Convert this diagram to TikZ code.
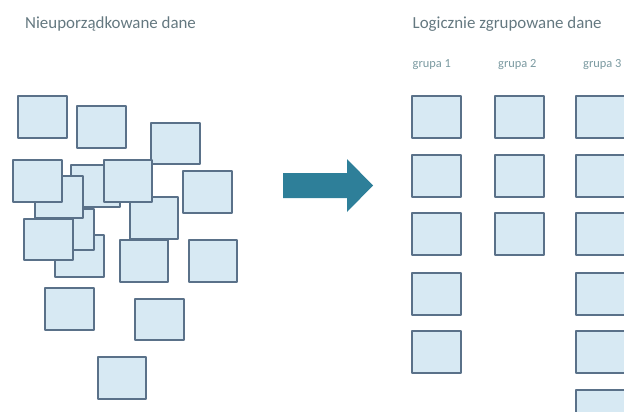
\documentclass[tikz,border=0pt]{standalone}
\usepackage{fontspec}
\setmainfont{Carlito}
\definecolor{boxfill}{HTML}{D7E9F3}
\definecolor{boxline}{HTML}{5A7189}
\definecolor{arrowteal}{HTML}{2E7F99}
\definecolor{titletext}{HTML}{647880}
\definecolor{grouptext}{HTML}{7A99A0}
\tikzset{
  databox/.style={draw=boxline,fill=boxfill,line width=2pt,line join=round,rectangle,inner sep=0pt,anchor=north west,minimum width=48.5pt,minimum height=41.5pt},
  titlelabel/.style={anchor=base west,inner sep=0pt,text=titletext,font=\fontsize{16.9}{19}\selectfont},
  grouplabel/.style={anchor=base west,inner sep=0pt,text=grouptext,font=\fontsize{12.4}{14}\selectfont}
}
\begin{document}
\begin{tikzpicture}[x=1pt,y=-1pt]
\useasboundingbox (0,0) rectangle (624,412);
\clip (0,0) rectangle (624,412);
\node[titlelabel] (t1) at (25,28.5) {Nieuporządkowane dane};
\node[titlelabel] (t2) at (412.5,28.5) {Logicznie zgrupowane dane};
\node[grouplabel] (g1) at (412.5,67) {grupa 1};
\node[grouplabel] (g2) at (498,67) {grupa 2};
\node[grouplabel] (g3) at (583,67) {grupa 3};
% unordered, back to front
\node[databox] (a1) at (17,95.3) {};
\node[databox] (a2) at (76,105.3) {};
\node[databox] (a3) at (150.3,121.7) {};
\node[databox] (a4) at (70.3,164.3) {};
\node[databox] (a5) at (54.3,234.3) {};
\node[databox] (a6) at (44,207.5) {};
\node[databox] (a7) at (33.7,175.3) {};
\node[databox] (a8) at (12,159.3) {};
\node[databox] (a9) at (23.3,217.7) {};
\node[databox] (a10) at (128.7,196.3) {};
\node[databox] (a11) at (102.7,159.3) {};
\node[databox] (a12) at (118.7,239.3) {};
\node[databox] (a13) at (182.3,170) {};
\node[databox] (a14) at (187.7,239.3) {};
\node[databox] (a15) at (44.3,287) {};
\node[databox] (a16) at (134,297.7) {};
\node[databox] (a17) at (96.7,356) {};
% arrow
\fill[arrowteal] (283,173) -- (347,173) -- (347,159) -- (373,185.5) -- (347,212) -- (347,198) -- (283,198) -- cycle;
% grouped
\foreach \n/\y in {1/95.3,2/154,3/212,4/272,5/330}
  \node[databox] (b\n) at (411,\y) {};
\foreach \n/\y in {1/95.3,2/154,3/212}
  \node[databox] (c\n) at (494.3,\y) {};
\foreach \n/\y in {1/95.3,2/154,3/212,4/272,5/330,6/388.7}
  \node[databox] (d\n) at (575.3,\y) {};
\end{tikzpicture}
\end{document}
